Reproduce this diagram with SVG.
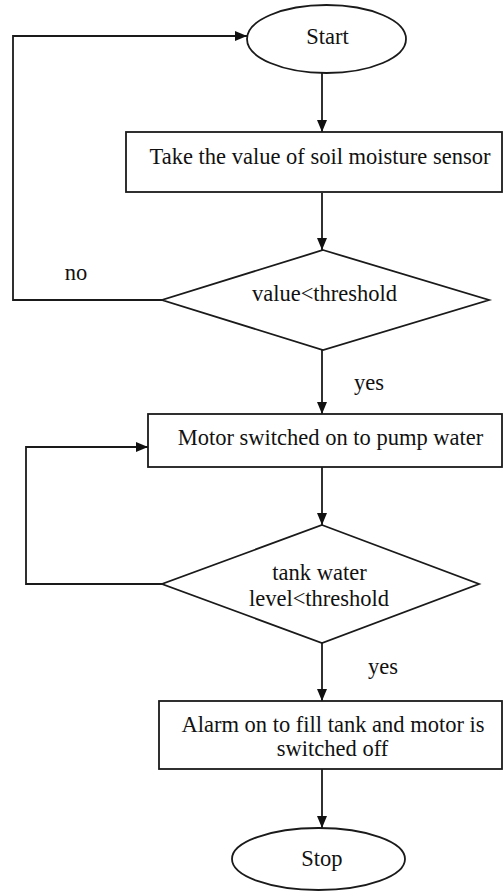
<svg xmlns="http://www.w3.org/2000/svg" width="503" height="891" viewBox="0 0 503 891">
  <style>
    .shape { fill: #ffffff; stroke: #1a1a1a; stroke-width: 1.8; }
    .edge { fill: none; stroke: #1a1a1a; stroke-width: 1.8; }
    text { font-family: "Liberation Serif", "Times New Roman", serif; font-size: 22.5px; fill: #111111; text-anchor: middle; }
  </style>
  <defs>
    <marker id="arrow" viewBox="0 0 12 10" refX="12" refY="5" markerWidth="12" markerHeight="10" markerUnits="userSpaceOnUse" orient="auto">
      <path d="M0,0 L12,5 L0,10 Z" fill="#111111"/>
    </marker>
  </defs>
  <rect width="503" height="891" fill="#ffffff"/>

  <g id="connectors">
    <line class="edge" x1="322" y1="73" x2="322" y2="132" marker-end="url(#arrow)"/>
    <line class="edge" x1="322" y1="193" x2="322" y2="250" marker-end="url(#arrow)"/>
    <line class="edge" x1="322" y1="350" x2="322" y2="414" marker-end="url(#arrow)"/>
    <line class="edge" x1="322" y1="467" x2="322" y2="525" marker-end="url(#arrow)"/>
    <line class="edge" x1="322" y1="643" x2="322" y2="701" marker-end="url(#arrow)"/>
    <line class="edge" x1="322" y1="769" x2="322" y2="828" marker-end="url(#arrow)"/>
    <polyline class="edge" points="162,300 13,300 13,36 247,36" marker-end="url(#arrow)"/>
    <polyline class="edge" points="162,584 26,584 26,447 148,447" marker-end="url(#arrow)"/>
    <text x="76" y="280">no</text>
    <text x="369" y="390">yes</text>
    <text x="383" y="674">yes</text>
  </g>

  <g id="start">
    <ellipse class="shape" cx="326.5" cy="39" rx="79.5" ry="34"/>
    <text x="327.5" y="44">Start</text>
  </g>

  <g id="read-sensor">
    <rect class="shape" x="126" y="132" width="376" height="60"/>
    <text x="320" y="164">Take the value of soil moisture sensor</text>
  </g>

  <g id="moisture-check">
    <polygon class="shape" points="323,250 489,300 323,350 162,300"/>
    <text x="324.5" y="301">value&lt;threshold</text>
  </g>

  <g id="motor-on">
    <rect class="shape" x="148" y="414" width="354" height="53"/>
    <text x="330.5" y="445">Motor switched on to pump water</text>
  </g>

  <g id="tank-check">
    <polygon class="shape" points="322,525 479,584 322,643 162,584"/>
    <text x="319.5" y="580">tank water</text>
    <text x="319" y="606">level&lt;threshold</text>
  </g>

  <g id="alarm">
    <rect class="shape" x="159" y="701" width="343" height="68"/>
    <text x="333" y="732">Alarm on to fill tank and motor is</text>
    <text x="332.5" y="756">switched off</text>
  </g>

  <g id="stop">
    <ellipse class="shape" cx="318.5" cy="859" rx="86.5" ry="31"/>
    <text x="322" y="866">Stop</text>
  </g>
</svg>
